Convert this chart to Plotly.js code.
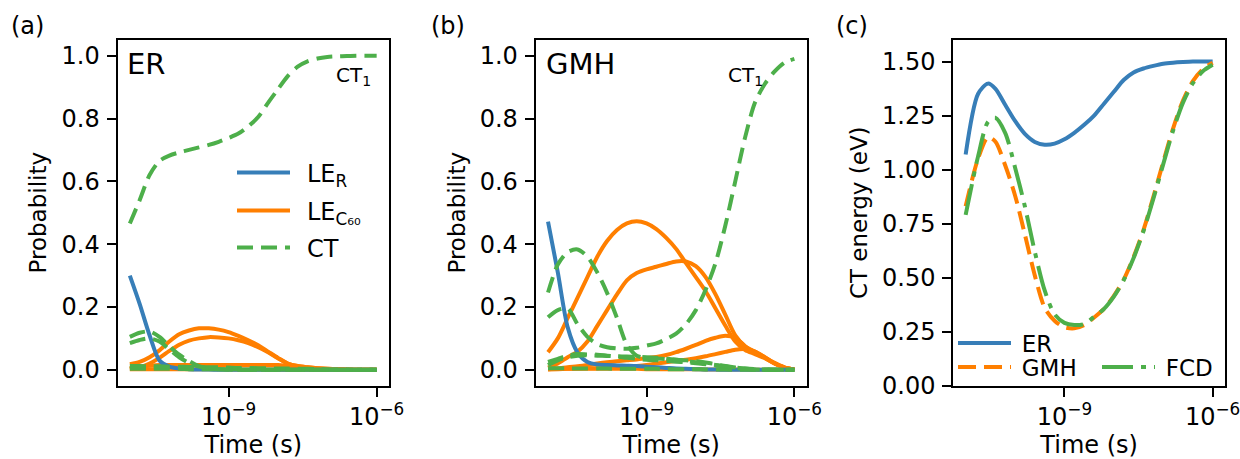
<!DOCTYPE html>
<html>
<head>
<meta charset="utf-8">
<script src="https://cdn.plot.ly/plotly-3.0.1.min.js"></script>
<style>html,body{margin:0;padding:0;background:#fff;}#chart{width:1240px;height:459px;}</style>
</head>
<body>
<div id="chart"></div>
<script>
// ---- time grids (s) ----
const timeAB = [1.0e-11, 1.58e-11, 2.51e-11, 3.98e-11, 6.31e-11, 1.0e-10, 1.58e-10, 2.51e-10, 3.98e-10, 6.31e-10,
  1.0e-9, 1.58e-9, 2.51e-9, 3.98e-9, 6.31e-9, 1.0e-8, 1.58e-8, 2.51e-8, 3.98e-8, 6.31e-8,
  1.0e-7, 1.58e-7, 2.51e-7, 3.98e-7, 6.31e-7, 1.0e-6];
const timeC = [1.0e-11, 1.78e-11, 2.82e-11, 3.98e-11, 6.31e-11, 1.0e-10, 1.58e-10, 2.51e-10, 3.98e-10, 6.31e-10,
  1.0e-9, 1.58e-9, 2.51e-9, 3.98e-9, 6.31e-9, 1.0e-8, 1.58e-8, 2.51e-8, 3.98e-8, 6.31e-8,
  1.0e-7, 1.58e-7, 2.51e-7, 3.98e-7, 6.31e-7, 1.0e-6];

// ---- panel (a) ER populations ----
const erLER = [0.30, 0.21, 0.11, 0.03, 0.010, 0.004, 0.002, 0.001, 0.001, 0, 0, 0, 0, 0, 0, 0, 0, 0, 0, 0, 0, 0, 0, 0, 0, 0];
const erLEC1 = [0.018, 0.025, 0.040, 0.062, 0.090, 0.113, 0.125, 0.132, 0.132, 0.128, 0.120, 0.108, 0.094, 0.078, 0.058, 0.038, 0.020, 0.012, 0.008, 0.005, 0.003, 0.002, 0.001, 0, 0, 0];
const erLEC2 = [0.003, 0.008, 0.020, 0.038, 0.060, 0.080, 0.093, 0.100, 0.104, 0.103, 0.100, 0.094, 0.085, 0.072, 0.056, 0.037, 0.020, 0.012, 0.008, 0.005, 0.003, 0.002, 0.001, 0, 0, 0];
const erLEC3 = [0.005, 0.010, 0.013, 0.015, 0.015, 0.015, 0.015, 0.015, 0.015, 0.015, 0.015, 0.015, 0.015, 0.015, 0.015, 0.015, 0.012, 0.008, 0.005, 0.003, 0.002, 0.001, 0, 0, 0, 0];
const erLEC4 = [0.002, 0.002, 0.002, 0.002, 0.002, 0.002, 0.002, 0.002, 0.002, 0.002, 0.001, 0.001, 0.001, 0.001, 0.001, 0.001, 0, 0, 0, 0, 0, 0, 0, 0, 0, 0];
const erCT1 = [0.466, 0.540, 0.620, 0.665, 0.682, 0.692, 0.700, 0.708, 0.716, 0.726, 0.738, 0.752, 0.775, 0.805, 0.850, 0.893, 0.935, 0.965, 0.982, 0.991, 0.996, 0.998, 0.999, 1.0, 1.0, 1.0];
const erCT2 = [0.105, 0.118, 0.122, 0.105, 0.075, 0.048, 0.028, 0.012, 0.005, 0.002, 0.001, 0, 0, 0, 0, 0, 0, 0, 0, 0, 0, 0, 0, 0, 0, 0];
const erCT3 = [0.085, 0.095, 0.100, 0.090, 0.065, 0.040, 0.022, 0.010, 0.004, 0.002, 0.001, 0, 0, 0, 0, 0, 0, 0, 0, 0, 0, 0, 0, 0, 0, 0];
const erCT4 = [0.012, 0.012, 0.011, 0.011, 0.010, 0.010, 0.009, 0.009, 0.008, 0.008, 0.007, 0.006, 0.006, 0.005, 0.005, 0.004, 0.004, 0.003, 0.003, 0.002, 0.001, 0.001, 0, 0, 0, 0];
const erCT5 = [0.003, 0.003, 0.003, 0.003, 0.003, 0.003, 0.002, 0.002, 0.002, 0.002, 0.002, 0.002, 0.001, 0.001, 0.001, 0.001, 0.001, 0, 0, 0, 0, 0, 0, 0, 0, 0];

// ---- panel (b) GMH populations ----
const gmLER = [0.472, 0.31, 0.135, 0.055, 0.025, 0.017, 0.015, 0.014, 0.013, 0.012, 0.010, 0.008, 0.006, 0.004, 0.003, 0.002, 0.001, 0.001, 0, 0, 0, 0, 0, 0, 0, 0];
const gmLEC1 = [0.056, 0.100, 0.165, 0.230, 0.295, 0.360, 0.410, 0.445, 0.466, 0.473, 0.466, 0.448, 0.420, 0.385, 0.340, 0.295, 0.250, 0.195, 0.140, 0.090, 0.063, 0.050, 0.037, 0.020, 0.007, 0.001];
const gmLEC2 = [0.007, 0.020, 0.040, 0.058, 0.090, 0.140, 0.190, 0.240, 0.285, 0.308, 0.320, 0.328, 0.337, 0.345, 0.345, 0.330, 0.295, 0.240, 0.175, 0.110, 0.075, 0.058, 0.040, 0.020, 0.007, 0.001];
const gmLEC3 = [0.002, 0.004, 0.008, 0.011, 0.015, 0.020, 0.024, 0.027, 0.030, 0.033, 0.037, 0.041, 0.047, 0.056, 0.067, 0.079, 0.092, 0.102, 0.108, 0.102, 0.075, 0.055, 0.038, 0.020, 0.007, 0.001];
const gmLEC4 = [0.001, 0.002, 0.003, 0.004, 0.005, 0.005, 0.007, 0.008, 0.010, 0.012, 0.015, 0.020, 0.024, 0.028, 0.032, 0.037, 0.043, 0.050, 0.057, 0.064, 0.066, 0.058, 0.040, 0.022, 0.008, 0.001];
const gmLEC5 = [0.003, 0.003, 0.003, 0.003, 0.003, 0.003, 0.003, 0.003, 0.003, 0.003, 0.002, 0.002, 0.002, 0.002, 0.002, 0.002, 0.001, 0.001, 0.001, 0.001, 0.001, 0, 0, 0, 0, 0];
const gmCT1 = [0.167, 0.190, 0.195, 0.145, 0.105, 0.082, 0.072, 0.068, 0.067, 0.070, 0.077, 0.084, 0.098, 0.115, 0.145, 0.190, 0.255, 0.340, 0.460, 0.600, 0.740, 0.850, 0.910, 0.950, 0.978, 0.990];
const gmCT2 = [0.246, 0.335, 0.375, 0.383, 0.360, 0.310, 0.245, 0.165, 0.080, 0.045, 0.038, 0.036, 0.034, 0.032, 0.030, 0.027, 0.023, 0.018, 0.012, 0.007, 0.003, 0.001, 0, 0, 0, 0];
const gmCT3 = [0.015, 0.030, 0.040, 0.045, 0.046, 0.045, 0.044, 0.043, 0.042, 0.041, 0.040, 0.038, 0.035, 0.032, 0.028, 0.024, 0.020, 0.015, 0.011, 0.007, 0.004, 0.002, 0.001, 0, 0, 0];
const gmCT4 = [0.025, 0.035, 0.045, 0.050, 0.049, 0.048, 0.045, 0.042, 0.038, 0.035, 0.032, 0.030, 0.028, 0.026, 0.024, 0.021, 0.018, 0.014, 0.010, 0.006, 0.003, 0.001, 0, 0, 0, 0];
const gmCT5 = [0.005, 0.005, 0.005, 0.004, 0.004, 0.004, 0.004, 0.003, 0.003, 0.003, 0.003, 0.003, 0.002, 0.002, 0.002, 0.002, 0.001, 0.001, 0.001, 0, 0, 0, 0, 0, 0, 0];

// ---- panel (c) CT energy (eV) ----
const ctER  = [1.07, 1.35, 1.398, 1.375, 1.30, 1.225, 1.165, 1.128, 1.115, 1.12, 1.14, 1.17, 1.207, 1.25, 1.305, 1.36, 1.415, 1.45, 1.468, 1.48, 1.49, 1.495, 1.498, 1.5, 1.5, 1.5];
const ctGMH = [0.83, 1.05, 1.15, 1.13, 1.02, 0.88, 0.70, 0.51, 0.36, 0.30, 0.27, 0.265, 0.28, 0.315, 0.355, 0.415, 0.49, 0.595, 0.72, 0.874, 1.035, 1.19, 1.32, 1.41, 1.465, 1.495];
const ctFCD = [0.79, 1.06, 1.22, 1.24, 1.17, 1.01, 0.83, 0.62, 0.44, 0.33, 0.29, 0.28, 0.285, 0.318, 0.355, 0.412, 0.487, 0.59, 0.715, 0.865, 1.025, 1.18, 1.31, 1.40, 1.455, 1.485];

// ---- labels ----
const probTicks = [0, 0.2, 0.4, 0.6, 0.8, 1.0];
const probTickText = ['0.0', '0.2', '0.4', '0.6', '0.8', '1.0'];
const energyTicks = [0, 0.25, 0.5, 0.75, 1.0, 1.25, 1.5];
const energyTickText = ['0.00', '0.25', '0.50', '0.75', '1.00', '1.25', '1.50'];
const timeTicks = [1e-9, 1e-6];
const timeTickText = ['10<sup>\u22129</sup>', '10<sup>\u22126</sup>'];

const BLUE = '#377eb8', ORANGE = '#ff7f00', GREEN = '#4daf4a';
const FONT = 'DejaVu Sans';
const FS = 24;
const LW = 4;
const DASH = '16px,8px';

function tr(x, y, xa, ya, color, dash, extra) {
  return Object.assign({
    x: x, y: y, xaxis: xa, yaxis: ya, mode: 'lines', type: 'scatter',
    line: {color: color, width: LW, dash: dash || 'solid', shape: 'spline', smoothing: 0.8},
    showlegend: false, hoverinfo: 'skip'
  }, extra || {});
}

const data = [];
// panel a
[erLEC4, erLEC3, erLEC2, erLEC1].forEach((v, i) => data.push(tr(timeAB, v, 'x', 'y', ORANGE, 'solid',
  i === 3 ? {showlegend: true, legend: 'legend2', name: '\u2002LE<sub>C\u2086\u2080</sub>'} : {})));
data.push(tr(timeAB, erLER, 'x', 'y', BLUE, 'solid', {showlegend: true, legend: 'legend', name: '\u2002LE<sub>R</sub>'}));
[erCT5, erCT4, erCT3, erCT2, erCT1].forEach((v, i) => data.push(tr(timeAB, v, 'x', 'y', GREEN, DASH,
  i === 4 ? {showlegend: true, legend: 'legend3', name: '\u2002CT'} : {})));
// panel b
[gmLEC5, gmLEC4, gmLEC3, gmLEC2, gmLEC1].forEach(v => data.push(tr(timeAB, v, 'x2', 'y2', ORANGE, 'solid')));
data.push(tr(timeAB, gmLER, 'x2', 'y2', BLUE, 'solid'));
[gmCT5, gmCT4, gmCT3, gmCT2, gmCT1].forEach(v => data.push(tr(timeAB, v, 'x2', 'y2', GREEN, DASH)));
// panel c
data.push(tr(timeC, ctER, 'x3', 'y3', BLUE, 'solid', {showlegend: true, legend: 'legend4', name: '\u2005ER'}));
data.push(tr(timeC, ctGMH, 'x3', 'y3', ORANGE, '18px,8px', {showlegend: true, legend: 'legend5', name: '\u2005GMH'}));
data.push(tr(timeC, ctFCD, 'x3', 'y3', GREEN, '31px,8px,5px,8px', {showlegend: true, legend: 'legend6', name: '\u2005FCD'}));

const W = 1240, H = 459;
const yDom = [1 - 385.5 / H, 1 - 40 / H];
function xax(l, r, anchor) {
  return {
    type: 'log', range: [-11.25, -5.75], domain: [l / W, r / W], anchor: anchor,
    tickvals: timeTicks, ticktext: timeTickText, ticks: 'outside', ticklen: 9, tickwidth: 2, tickcolor: '#000',
    showline: true, linewidth: 2, linecolor: '#000', mirror: true, showgrid: false, zeroline: false,
    tickfont: {family: FONT, size: FS, color: '#000'}, ticklabeloverflow: 'allow',
    title: {text: 'Time (s)', font: {family: FONT, size: FS, color: '#000'}, standoff: 20},
    automargin: false
  };
}
function yax(anchor, range, tv, tt, title) {
  return {
    range: range, domain: yDom, anchor: anchor,
    tickvals: tv, ticktext: tt, ticks: 'outside', ticklen: 9, tickwidth: 2, tickcolor: '#000',
    showline: true, linewidth: 2, linecolor: '#000', mirror: true, showgrid: false, zeroline: false,
    tickfont: {family: FONT, size: FS, color: '#000'}, ticklabelstandoff: 2,
    title: {text: title, font: {family: FONT, size: 23, color: '#000'}, standoff: 8},
    automargin: false
  };
}
function leg(x, y, fs) {
  return {x: x / W, y: 1 - y / H, xanchor: 'left', yanchor: 'middle', bgcolor: 'rgba(0,0,0,0)', borderwidth: 0,
    font: {family: FONT, size: fs || FS, color: '#000'}, itemwidth: 53, itemclick: false, itemdoubleclick: false};
}

const txt = (text, x, y, size, xanchor) => ({text: text, x: x / W, y: 1 - y / H, xref: 'paper', yref: 'paper',
  xanchor: xanchor || 'left', yanchor: 'middle', showarrow: false, font: {family: FONT, size: size, color: '#000'}});

const layout = {
  width: W, height: H, margin: {l: 0, r: 0, t: 0, b: 0},
  paper_bgcolor: '#fff', plot_bgcolor: '#fff', showlegend: true,
  font: {family: FONT, size: FS, color: '#000'},
  xaxis: xax(117.5, 389, 'y'),
  yaxis: yax('x', [-0.05, 1.05], probTicks, probTickText, 'Probability'),
  xaxis2: xax(535.7, 806.7, 'y2'),
  yaxis2: yax('x2', [-0.05, 1.05], probTicks, probTickText, 'Probability'),
  xaxis3: xax(953.3, 1225, 'y3'),
  yaxis3: yax('x3', [0, 1.6], energyTicks, energyTickText, 'CT energy (eV)'),
  legend: leg(232, 173),
  legend2: leg(232, 211),
  legend3: leg(232, 248),
  legend4: leg(953, 343, 23),
  legend5: leg(953, 367, 23),
  legend6: leg(1097, 367, 23),
  annotations: [
    txt('(a)', 9, 26, FS),
    txt('(b)', 429, 26, FS),
    txt('(c)', 834, 26, FS),
    txt('ER', 125, 64, 29),
    txt('GMH', 544, 64, 29),
    txt('CT<sub>1</sub>', 334, 76, 20),
    txt('CT<sub>1</sub>', 726, 76, 20)
  ]
};

Plotly.newPlot('chart', data, layout, {staticPlot: true, displayModeBar: false});
</script>
</body>
</html>
